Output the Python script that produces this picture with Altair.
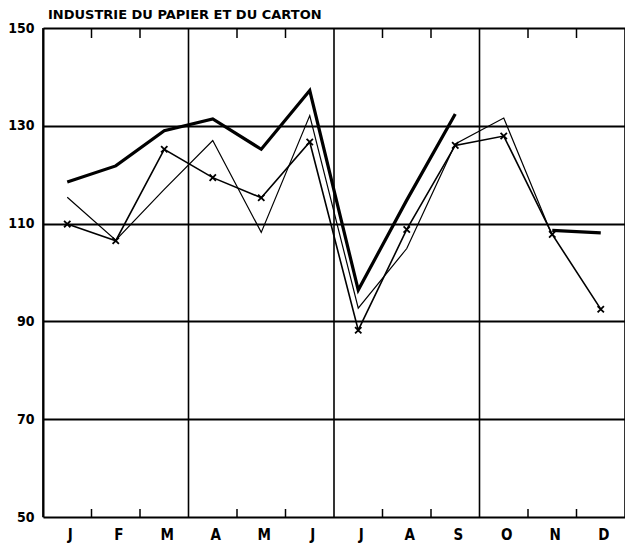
import altair as alt
import pandas as pd

# ---- data ----
months = ["J", "F", "M", "A", "M", "J", "J", "A", "S", "O", "N", "D"]
thick = [118.5, 121.8, 129.0, 131.4, 125.2, 137.2, 96.4, 114.8, 132.4, None, 108.6, 108.1]
thin = [115.4, 106.6, 117.0, 127.0, 108.2, 132.1, 92.7, 104.9, 126.3, 131.6, 107.5, None]
cross = [109.9, 106.5, 125.2, 119.4, 115.3, 126.7, 88.2, 108.8, 126.0, 127.9, 107.8, 92.5]
y_ticks = [50, 70, 90, 110, 130, 150]
quarter_bounds = [0, 3, 6, 9, 12]
month_bounds = [1, 2, 4, 5, 7, 8, 10, 11]
title_text = "INDUSTRIE DU PAPIER ET DU CARTON"

W, H = 582, 489
LABEL_FONT = "DejaVu Sans Condensed"


def series_frame(values):
    rows, seg = [], 0
    for i, v in enumerate(values):
        if v is None:
            seg += 1
            continue
        rows.append({"pos": i + 0.5, "val": v, "seg": seg})
    return pd.DataFrame(rows)


df_thick = series_frame(thick)
df_thin = series_frame(thin)
df_cross = series_frame(cross)
df_q = pd.DataFrame({"b": quarter_bounds})
df_m = pd.DataFrame({"b": month_bounds})
df_lab = pd.DataFrame({"pos": [i + 0.5 for i in range(12)], "m": months})
df_title = pd.DataFrame({"t": [title_text]})

x_scale = alt.Scale(domain=[0, 12], nice=False, zero=False)
y_scale = alt.Scale(domain=[50, 150], nice=False, zero=False)

y_axis = alt.Axis(
    values=y_ticks, grid=True, gridColor="black", gridWidth=2, gridOpacity=1,
    domain=True, domainColor="black", domainWidth=2, tickSize=0,
    labelFont=LABEL_FONT, labelFontWeight="bold", labelFontSize=14,
    labelColor="black", labelPadding=9, title=None,
)

base_x = alt.X("pos:Q", scale=x_scale, axis=None)
base_y = alt.Y("val:Q", scale=y_scale, axis=y_axis)

quarters = alt.Chart(df_q).mark_rule(color="black", strokeWidth=1.6).encode(
    x=alt.X("b:Q", scale=x_scale, axis=None)
)
ticks_bottom = alt.Chart(df_m).mark_rule(color="black", strokeWidth=1.5).encode(
    x=alt.X("b:Q", scale=x_scale, axis=None), y=alt.value(H - 8), y2=alt.value(H)
)
ticks_top = alt.Chart(df_m).mark_rule(color="black", strokeWidth=1.5).encode(
    x=alt.X("b:Q", scale=x_scale, axis=None), y=alt.value(0), y2=alt.value(10)
)

month_labels = alt.Chart(df_lab).mark_text(
    font=LABEL_FONT, fontWeight="bold", fontSize=15, color="black",
    baseline="alphabetic", align="center", dx=3,
).encode(x=base_x, y=alt.value(H + 23), text="m:N")

title_mark = alt.Chart(df_title).mark_text(
    font="DejaVu Sans", fontWeight="bold", fontSize=13, color="black",
    baseline="alphabetic", align="left",
).encode(x=alt.value(5), y=alt.value(-9), text="t:N")

line_thick = alt.Chart(df_thick).mark_line(color="black", strokeWidth=3.2).encode(
    x=base_x, y=base_y, detail="seg:N"
)
line_thin = alt.Chart(df_thin).mark_line(color="black", strokeWidth=1.2).encode(
    x=base_x, y=base_y, detail="seg:N"
)
line_cross = alt.Chart(df_cross).mark_line(color="black", strokeWidth=1.6).encode(
    x=base_x, y=base_y, detail="seg:N"
)
pts_cross = alt.Chart(df_cross).mark_point(
    shape="M-1,-1L1,1M-1,1L1,-1", filled=False, color="black", strokeWidth=1.8,
    size=40, opacity=1,
).encode(x=base_x, y=base_y)

chart = alt.layer(
    line_thick, quarters, ticks_bottom, ticks_top, line_thin, line_cross,
    pts_cross, month_labels, title_mark,
).properties(
    width=W, height=H,
    autosize=alt.AutoSizeParams(type="none"),
    padding={"left": 35, "top": 20, "right": 0, "bottom": 26},
    background="white",
).configure_view(stroke=None)

chart.save("out.html", embed_options={"renderer": "svg", "actions": False})
